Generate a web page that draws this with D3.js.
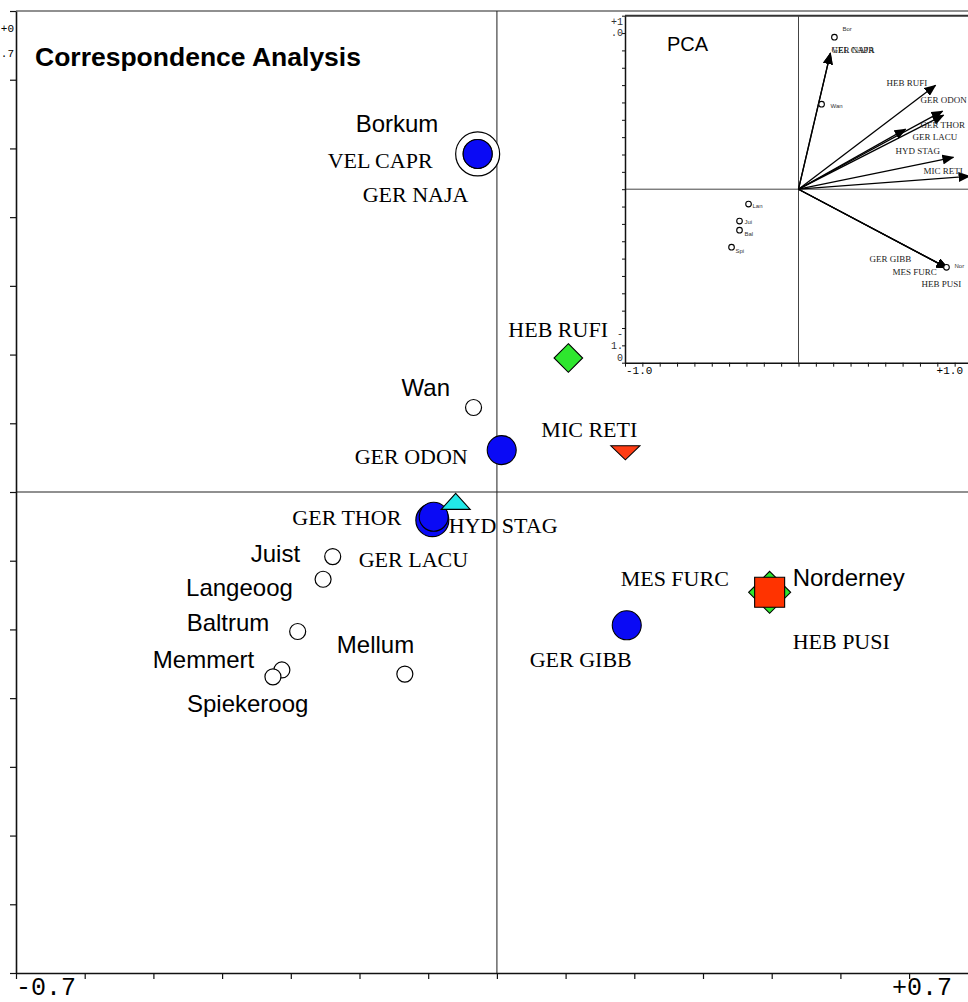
<!DOCTYPE html>
<html><head><meta charset="utf-8">
<script src="https://cdn.jsdelivr.net/npm/d3@7"></script>
<style>body{margin:0;background:#fff;overflow:hidden} svg{display:block}</style>
</head><body>
<script>
// ---- Correspondence analysis: site scores ----
const siteNames = ["Borkum","Wan","Juist","Langeoog","Baltrum","Memmert","Spiekeroog","Mellum","Norderney"];
const siteAx1 = [-0.028,-0.034,-0.239,-0.253,-0.290,-0.313,-0.326,-0.134,0.397];
const siteAx2 = [0.492,0.123,-0.094,-0.127,-0.203,-0.259,-0.269,-0.265,-0.146];
// ---- Correspondence analysis: species scores ----
const speciesNames = ["VEL CAPR","GER NAJA","HEB PUSI","MES FURC","HEB RUFI","MIC RETI","GER ODON","GER THOR","GER LACU","HYD STAG","GER GIBB"];
const speciesGroup = ["Gerridae","Gerridae","Hebrus","Mesovelia","Hebrus","Microvelia","Gerridae","Gerridae","Gerridae","Hydrometra","Gerridae"];
const speciesAx1 = [-0.028,-0.028,0.397,0.397,0.104,0.187,0.007,-0.094,-0.092,-0.060,0.189];
const speciesAx2 = [0.492,0.492,-0.146,-0.146,0.195,0.060,0.061,-0.041,-0.036,-0.018,-0.194];
// ---- axis tick labels ----
const caTickLabels = ["-0.7","+0.7"];
const pcaTickLabels = ["-1.0","+1.0"];
// ---- PCA inset: species arrows ----
const pcaSpecies = ["VEL CAPR","GER NAJA","HEB RUFI","GER ODON","GER THOR","GER LACU","HYD STAG","MIC RETI","GER GIBB","MES FURC","HEB PUSI"];
const pcaSpAx1 = [0.184,0.184,0.790,0.830,0.836,0.617,0.893,0.986,0.859,0.859,0.859];
const pcaSpAx2 = [0.784,0.784,0.599,0.450,0.427,0.346,0.184,0.075,-0.455,-0.455,-0.455];
// ---- PCA inset: sites ----
const pcaSites = ["Bor","Wan","Lan","Jui","Bal","Spi","Nor"];
const pcaSiteAx1 = [0.207,0.133,-0.288,-0.340,-0.340,-0.386,0.853];
const pcaSiteAx2 = [0.876,0.490,-0.086,-0.184,-0.236,-0.334,-0.450];

const W = 968, H = 1002;
const svg = d3.select("body").append("svg").attr("width", W).attr("height", H);
const SANS = "'Liberation Sans', Arial, sans-serif";
const SERIF = "'Liberation Serif', 'Times New Roman', serif";
const MONO = "'Liberation Mono', 'Courier New', monospace";

// main scales
const unit = 687; // px per 1.0
const x = d3.scaleLinear().domain([-0.7, 0.7]).range([16, 16 + 1.4 * unit]);
const y = d3.scaleLinear().domain([-0.7, 0.7]).range([973, 11]);
const ticks = d3.range(-7, 8).map(i => i / 10);

const main = svg.append("g");
// zero lines
main.append("line").attr("x1", x(0)).attr("x2", x(0)).attr("y1", y(0.7)).attr("y2", y(-0.7))
  .attr("stroke", "#444").attr("stroke-width", 1.2);
main.append("line").attr("x1", x(-0.7)).attr("x2", x(0.7)).attr("y1", y(0)).attr("y2", y(0))
  .attr("stroke", "#222").attr("stroke-width", 1.2);
// top frame
main.append("line").attr("x1", x(-0.7)).attr("x2", W).attr("y1", y(0.7)).attr("y2", y(0.7))
  .attr("stroke", "#222").attr("stroke-width", 1.2);

const axL = main.append("g").attr("transform", `translate(${x(-0.7)},0)`)
  .call(d3.axisLeft(y).tickValues(ticks).tickSize(6).tickFormat("").tickSizeOuter(0));
const axB = main.append("g").attr("transform", `translate(0,${y(-0.7)})`)
  .call(d3.axisBottom(x).tickValues(ticks).tickSize(6).tickFormat("").tickSizeOuter(0));
[axL, axB].forEach(a => { a.select(".domain").attr("stroke", "#111").attr("stroke-width", 1.6); a.selectAll(".tick line").attr("stroke", "#111").attr("stroke-width", 1.2); });

main.append("text").attr("x", x(-0.7)).attr("y", 995).attr("font-family", MONO).attr("font-size", 25)
  .text(caTickLabels[0]);
main.append("text").attr("x", 952).attr("y", 995).attr("text-anchor", "end").attr("font-family", MONO).attr("font-size", 25)
  .text(caTickLabels[1]);
// wrapped top-left y label
const ytl = caTickLabels[1];
main.append("text").attr("x", 14).attr("y", 32).attr("text-anchor", "end").attr("font-family", MONO).attr("font-size", 11).text(ytl.slice(0, 2));
main.append("text").attr("x", 14).attr("y", 57).attr("text-anchor", "end").attr("font-family", MONO).attr("font-size", 11).text(ytl.slice(2));

main.append("text").attr("x", 35).attr("y", 66).attr("font-family", SANS).attr("font-weight", "bold")
  .attr("font-size", 26.5).text("Correspondence Analysis");

// sites
const sites = siteNames.map((n, i) => ({ name: n, a1: siteAx1[i], a2: siteAx2[i] }));
const siteRadius = { Borkum: 22 };
main.selectAll("circle.site").data(sites).join("circle").attr("class", "site")
  .attr("cx", d => x(d.a1)).attr("cy", d => y(d.a2)).attr("r", d => siteRadius[d.name] || 8)
  .attr("fill", "#fff").attr("stroke", "#000").attr("stroke-width", 1.2);

// species
const species = speciesNames.map((n, i) => ({ name: n, g: speciesGroup[i], a1: speciesAx1[i], a2: speciesAx2[i] }));
const spSize = { "HEB PUSI": 21, "HEB RUFI": 14.3, "GER THOR": 16.5 };
function shape(d) {
  const s = spSize[d.name];
  switch (d.g) {
    case "Gerridae": { const r = s || 14.5; return `M${r},0A${r},${r} 0 1,1 ${-r},0A${r},${r} 0 1,1 ${r},0Z`; }
    case "Hebrus": return `M0,${-s}L${s},0L0,${s}L${-s},0Z`;
    case "Mesovelia": return "M-15,-15H15V15H-15Z";
    case "Microvelia": return "M-14.5,-5H14.5L0,9Z";
    case "Hydrometra": return "M0,-11L14.5,5H-14.5Z";
  }
}
const spFill = { Gerridae: "#0a0af5", Hebrus: "#2ee62e", Mesovelia: "#ff3300", Microvelia: "#ff3d14", Hydrometra: "#22e8e8" };
const drawOrder = ["VEL CAPR","GER NAJA","HEB PUSI","MES FURC","HEB RUFI","MIC RETI","GER ODON","GER THOR","GER LACU","HYD STAG","GER GIBB"];
main.selectAll("path.sp").data(species.slice().sort((a, b) => drawOrder.indexOf(a.name) - drawOrder.indexOf(b.name)))
  .join("path").attr("class", "sp")
  .attr("transform", d => `translate(${x(d.a1)},${y(d.a2)})`)
  .attr("d", shape).attr("fill", d => spFill[d.g]).attr("stroke", "#000").attr("stroke-width", 1.1);

// labels (offsets in px from the point)
const siteLab = { Borkum: [-122, -22], Wan: [-72, -11], Juist: [-82, 5], Langeoog: [-137, 17], Baltrum: [-111, 0],
  Memmert: [-129, -2], Spiekeroog: [-86, 35], Mellum: [-68, -21], Norderney: [23, -6] };
main.selectAll("text.sl").data(sites).join("text").attr("class", "sl")
  .attr("x", d => x(d.a1) + siteLab[d.name][0]).attr("y", d => y(d.a2) + siteLab[d.name][1])
  .attr("font-family", SANS).attr("font-size", 24).text(d => d.name);
const spLab = { "VEL CAPR": [-150, 14], "GER NAJA": [-115, 48], "HEB RUFI": [-60, -21], "MIC RETI": [-84, -14],
  "GER ODON": [-147, 14], "GER THOR": [-140, 5], "GER LACU": [-75, 50], "HYD STAG": [-7, 29], "GER GIBB": [-97, 42],
  "MES FURC": [-149, -6], "HEB PUSI": [23, 57] };
main.selectAll("text.spl").data(species).join("text").attr("class", "spl")
  .attr("x", d => x(d.a1) + spLab[d.name][0]).attr("y", d => y(d.a2) + spLab[d.name][1])
  .attr("font-family", SERIF).attr("font-size", 22).text(d => d.name);

// ---------------- PCA inset ----------------
const iu = 173.5;
const xi = d3.scaleLinear().domain([-1, 1]).range([625, 625 + 2 * iu]);
const yi = d3.scaleLinear().domain([-1, 1]).range([362.7, 15.7]);
const ins = svg.append("g");
ins.append("rect").attr("x", xi(-1)).attr("y", yi(1)).attr("width", W - xi(-1)).attr("height", yi(-1) - yi(1)).attr("fill", "#fff");
ins.append("line").attr("x1", xi(-1)).attr("x2", W).attr("y1", yi(1)).attr("y2", yi(1)).attr("stroke", "#333").attr("stroke-width", 2);
ins.append("line").attr("x1", xi(0)).attr("x2", xi(0)).attr("y1", yi(1)).attr("y2", yi(-1)).attr("stroke", "#444").attr("stroke-width", 1);
ins.append("line").attr("x1", xi(-1)).attr("x2", W).attr("y1", yi(0)).attr("y2", yi(0)).attr("stroke", "#444").attr("stroke-width", 1);
const iticks = d3.range(-10, 11).map(i => i / 10);
const iaL = ins.append("g").attr("transform", `translate(${xi(-1)},0)`)
  .call(d3.axisLeft(yi).tickValues(iticks).tickSize(3).tickFormat("").tickSizeOuter(0));
const iaB = ins.append("g").attr("transform", `translate(0,${yi(-1)})`)
  .call(d3.axisBottom(xi).tickValues(iticks).tickSize(4).tickFormat("").tickSizeOuter(0));
[iaL, iaB].forEach(a => { a.select(".domain").attr("stroke", "#111").attr("stroke-width", 1.5); a.selectAll(".tick line").attr("stroke", "#111"); });
ins.append("text").attr("x", xi(-1) + 1).attr("y", 374).attr("font-family", MONO).attr("font-size", 11).text(pcaTickLabels[0]);
ins.append("text").attr("x", 963).attr("y", 374).attr("text-anchor", "end").attr("font-family", MONO).attr("font-size", 11).text(pcaTickLabels[1]);
[["+1", 25], [".0", 36]].forEach(([t, yy]) => ins.append("text").attr("x", 623).attr("y", yy).attr("text-anchor", "end").attr("font-family", MONO).attr("font-size", 10).attr("fill", "#333").text(t));
[["-", 337], ["1.", 349], ["0", 361]].forEach(([t, yy]) => ins.append("text").attr("x", 623).attr("y", yy).attr("text-anchor", "end").attr("font-family", MONO).attr("font-size", 10).attr("fill", "#333").text(t));
ins.append("text").attr("x", 667).attr("y", 51).attr("font-family", SANS).attr("font-size", 20).text("PCA");

svg.append("defs").append("marker").attr("id", "ah").attr("viewBox", "0 0 12 10").attr("refX", 11).attr("refY", 5)
  .attr("markerWidth", 12).attr("markerHeight", 10).attr("markerUnits", "userSpaceOnUse").attr("orient", "auto")
  .append("path").attr("d", "M0,0L12,5L0,10Z").attr("fill", "#000");
const arrows = pcaSpecies.map((n, i) => ({ name: n, a1: pcaSpAx1[i], a2: pcaSpAx2[i] }));
ins.selectAll("line.arr").data(arrows).join("line").attr("class", "arr")
  .attr("x1", xi(0)).attr("y1", yi(0)).attr("x2", d => xi(d.a1)).attr("y2", d => yi(d.a2))
  .attr("stroke", "#000").attr("stroke-width", 1.3).attr("marker-end", "url(#ah)");
const pLab = { "VEL CAPR": [1, 0], "GER NAJA": [1, 0], "HEB RUFI": [-49, 1], "GER ODON": [-22, -8], "GER THOR": [-23, 13],
  "GER LACU": [7, 11], "HYD STAG": [-58, -3], "MIC RETI": [-46, -2], "GER GIBB": [-78, -6], "MES FURC": [-55, 7], "HEB PUSI": [-26, 19] };
ins.selectAll("text.pl").data(arrows).join("text").attr("class", "pl")
  .attr("x", d => xi(d.a1) + pLab[d.name][0]).attr("y", d => yi(d.a2) + pLab[d.name][1])
  .attr("font-family", SERIF).attr("font-size", 9).attr("fill", "#222").text(d => d.name);
const psites = pcaSites.map((n, i) => ({ name: n, a1: pcaSiteAx1[i], a2: pcaSiteAx2[i] }));
ins.selectAll("circle.ps").data(psites).join("circle").attr("class", "ps")
  .attr("cx", d => xi(d.a1)).attr("cy", d => yi(d.a2)).attr("r", 2.8)
  .attr("fill", "#fff").attr("stroke", "#000").attr("stroke-width", 1.1);
const psLab = { Bor: [8, -6], Wan: [9, 4], Lan: [4, 4], Jui: [5, 3], Bal: [5, 6], Spi: [4, 6], Nor: [8, 1] };
ins.selectAll("text.psl").data(psites).join("text").attr("class", "psl")
  .attr("x", d => xi(d.a1) + psLab[d.name][0]).attr("y", d => yi(d.a2) + psLab[d.name][1])
  .attr("font-family", SANS).attr("font-size", 6).attr("fill", "#333").text(d => d.name);
</script>
</body></html>
